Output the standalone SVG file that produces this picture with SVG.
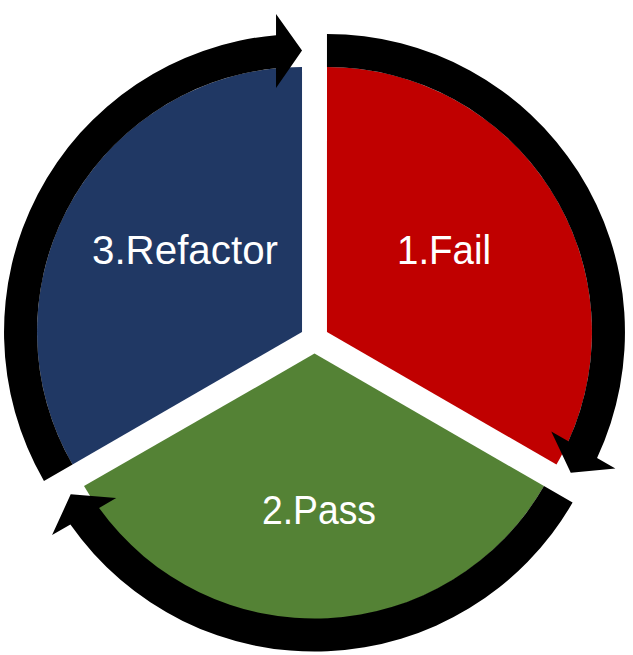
<svg xmlns="http://www.w3.org/2000/svg" width="633" height="655" viewBox="0 0 633 655">
  <style>
    .lbl { font-family: "Liberation Sans", Arial, sans-serif; font-size: 40px; fill: #FFFFFF; text-anchor: middle; }
    .arrow { fill: #000000; stroke: none; }
  </style>
  <rect width="633" height="655" fill="#FFFFFF"/>
  <g id="node-fail">
    <path d="M 326.97,332 L 326.97,67 A 265 265 0 0 1 556.46,464.5 Z" fill="#C00000"/>
    <text class="lbl" x="444" y="264" textLength="94" lengthAdjust="spacingAndGlyphs">1.Fail</text>
  </g>
  <g id="node-pass">
    <path d="M 314.5,353.6 L 543.99,486.1 A 265 265 0 0 1 84.01,486.1 Z" fill="#548235"/>
    <text class="lbl" x="319" y="524" textLength="114" lengthAdjust="spacingAndGlyphs">2.Pass</text>
  </g>
  <g id="node-refactor">
    <path d="M 302.03,332 L 72.54,464.5 A 265 265 0 0 1 302.03,67 Z" fill="#203864"/>
    <text class="lbl" x="185" y="264" textLength="186" lengthAdjust="spacingAndGlyphs">3.Refactor</text>
  </g>
  <g id="connectors">
    <path class="arrow" d="M 326.97,34 A 298 298 0 0 1 597.06,457.91 L 615.37,468.48 L 570.76,472.75 L 551.28,431.48 L 568.36,441.34 A 265 265 0 0 0 326.97,67 Z"/>
    <path class="arrow" d="M 572.58,502.6 A 298 298 0 0 1 70.41,524.55 L 52.10,535.12 L 70.71,494.35 L 116.19,498.12 L 99.11,507.98 A 265 265 0 0 0 543.99,486.1 Z"/>
    <path class="arrow" d="M 43.95,481 A 298 298 0 0 1 276.03,35.14 L 276.03,14 L 302.03,50.5 L 276.03,88 L 276.03,68.28 A 265 265 0 0 0 72.54,464.5 Z"/>
  </g>
</svg>
